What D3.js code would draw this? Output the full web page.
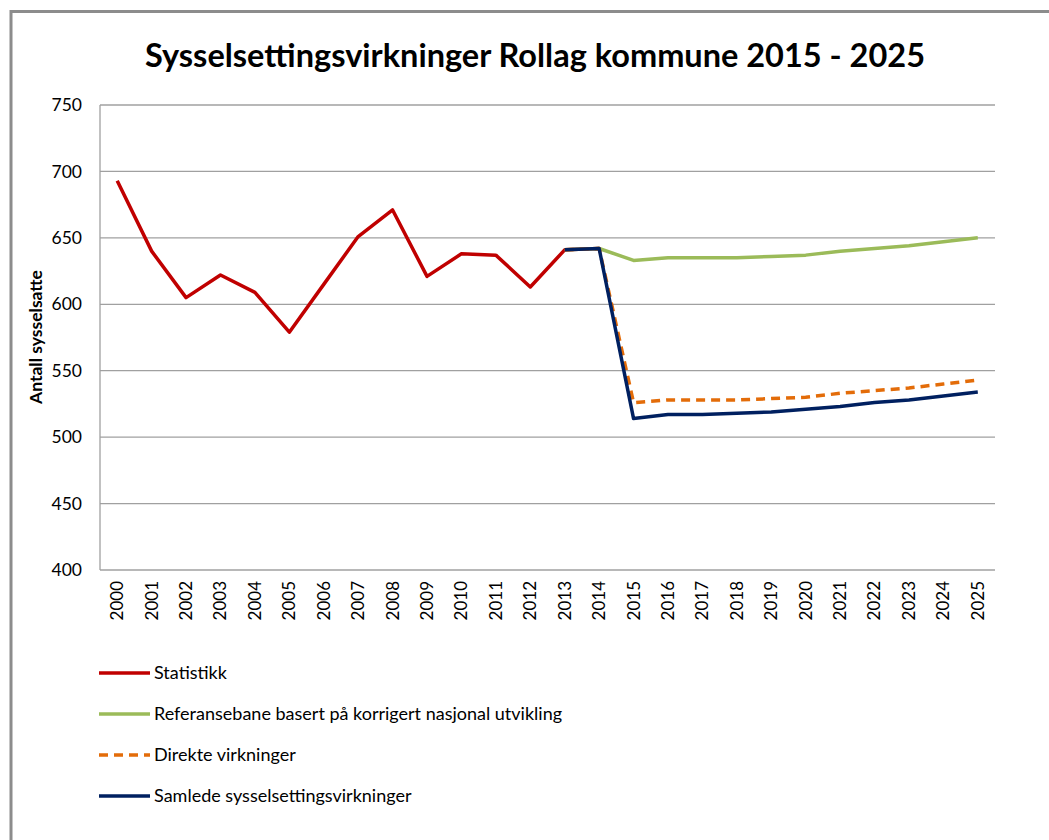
<!DOCTYPE html>
<html><head><meta charset="utf-8">
<script src="https://cdn.jsdelivr.net/npm/d3@7"></script>
<style>body{margin:0;background:#fff}svg{display:block}</style>
</head><body>
<script>
const years = ["2000","2001","2002","2003","2004","2005","2006","2007","2008","2009","2010","2011","2012","2013","2014","2015","2016","2017","2018","2019","2020","2021","2022","2023","2024","2025"];
const statistikk = [693,640,605,622,609,579,615,651,671,621,638,637,613,641,642];
const referanse = [null,null,null,null,null,null,null,null,null,null,null,null,null,641,642,633,635,635,635,636,637,640,642,644,647,650];
const direkte   = [null,null,null,null,null,null,null,null,null,null,null,null,null,641,642,526,528,528,528,529,530,533,535,537,540,543];
const samlede   = [null,null,null,null,null,null,null,null,null,null,null,null,null,641,642,514,517,517,518,519,521,523,526,528,531,534];
const yTicks = [400,450,500,550,600,650,700,750];
const seriesNames = ["Statistikk","Referansebane basert på korrigert nasjonal utvikling","Direkte virkninger","Samlede sysselsettingsvirkninger"];
const seriesColors = ["#C00000","#9BBB59","#E36C09","#002060"];
const title = "Sysselsettingsvirkninger Rollag kommune 2015 - 2025";
const yLabel = "Antall sysselsatte";

const W=1049,H=840;
const font = "Lato, 'Open Sans', sans-serif";
const svg = d3.select("body").append("svg").attr("width",W).attr("height",H);
svg.append("path").attr("d","M11,840 V11.5 H1049").attr("fill","none").attr("stroke","#8c8c8c").attr("stroke-width",3);

const L=100,R=995,T=105,B=570;
const x = d3.scaleBand().domain(years).range([L,R]);
const y = d3.scaleLinear().domain([400,750]).range([B,T]);
const cx = d => x(d)+x.bandwidth()/2;

svg.append("text").attr("x",535).attr("y",67).attr("text-anchor","middle")
  .attr("font-family",font).attr("font-weight","bold").attr("font-size",32.5).text(title);

svg.append("g").selectAll("line").data(yTicks).join("line")
  .attr("x1",L).attr("x2",R).attr("y1",d=>y(d)).attr("y2",d=>y(d))
  .attr("stroke","#a0a0a0").attr("stroke-width",1.3);
svg.append("line").attr("x1",L).attr("x2",L).attr("y1",T).attr("y2",B).attr("stroke","#a0a0a0").attr("stroke-width",1.3);

const ya = svg.append("g").attr("transform",`translate(${L},0)`)
  .call(d3.axisLeft(y).tickValues(yTicks).tickSize(0).tickPadding(18));
ya.select(".domain").remove();
ya.selectAll("text").attr("font-family",font).attr("font-size",17.5).attr("fill","#000");

const xa = svg.append("g").attr("transform",`translate(0,${B})`)
  .call(d3.axisBottom(x).tickSize(0));
xa.select(".domain").remove();
xa.selectAll("text").attr("font-family",font).attr("font-size",17).attr("fill","#000")
  .attr("transform","rotate(-90)").attr("text-anchor","end").attr("x",-11).attr("y",0).attr("dy","0.35em");

svg.append("text").attr("transform","translate(42,337) rotate(-90)").attr("text-anchor","middle")
  .attr("font-family",font).attr("font-weight","bold").attr("font-size",17.5).text(yLabel);

const line = d3.line().defined(d=>d.v!=null).x(d=>cx(d.k)).y(d=>y(d.v));
const all = [statistikk,referanse,direkte,samlede];
all.forEach((arr,i)=>{
  const data = arr.map((v,j)=>({k:years[j],v}));
  svg.append("path").datum(data).attr("d",line).attr("fill","none")
    .attr("stroke",seriesColors[i]).attr("stroke-width",3.5)
    .attr("stroke-linejoin","round")
    .attr("stroke-dasharray", i===2?"9,6":null);
});

const lg = svg.append("g");
seriesNames.forEach((n,i)=>{
  const yy = 673 + i*41;
  lg.append("line").attr("x1",99).attr("x2",150).attr("y1",yy).attr("y2",yy)
    .attr("stroke",seriesColors[i]).attr("stroke-width",3.5).attr("stroke-dasharray",i===2?"9,6":null);
  lg.append("text").attr("x",154).attr("y",yy).attr("dy","0.35em")
    .attr("font-family",font).attr("font-size",18).text(n);
});
</script>
</body></html>
